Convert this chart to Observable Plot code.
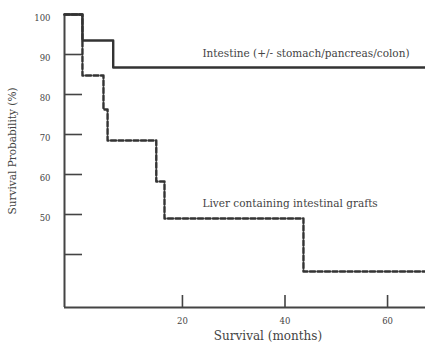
<!DOCTYPE html>
<html>
<head>
<meta charset="utf-8">
<script src="https://cdn.jsdelivr.net/npm/d3@7"></script>
<script src="https://cdn.jsdelivr.net/npm/@observablehq/plot@0.6"></script>
<style>
  html, body { margin: 0; padding: 0; background: #fff; }
  svg { display: block; }
</style>
</head>
<body>
<div id="chart"></div>
<script>
// Survival (months) at each step and survival probability (%) after the step
const intestineMonths = [-3, 0.5, 6.5, 67.4];
const intestineSurvival = [100, 93.5, 86.75, 86.75];
const liverMonths = [-3, 0.5, 4.6, 5.4, 14.9, 16.5, 43.6, 67.4];
const liverSurvival = [100, 84.75, 76.25, 68.5, 58.25, 49, 35.75, 35.75];
const xTicks = [20, 40, 60];
const yTicks = [100, 90, 80, 70, 60, 50, 40];
const yTickLabels = ["100", "90", "80", "70", "60", "50", ""];
const seriesLabels = ["Intestine (+/- stomach/pancreas/colon)", "Liver containing intestinal grafts"];
const xDomain = [-3, 67.4];
const yDomain = [26.75, 100];

const intestine = intestineMonths.map((m, i) => ({m, s: intestineSurvival[i]}));
const liver = liverMonths.map((m, i) => ({m, s: liverSurvival[i]}));

const font = "'DejaVu Serif', 'Liberation Serif', serif";
const ink = "#333";

const chart = Plot.plot({
  width: 425,
  height: 352,
  marginLeft: 64,
  marginRight: 0,
  marginTop: 14,
  marginBottom: 45,
  style: {fontFamily: font, color: "#444", background: "#fff"},
  x: {domain: xDomain},
  y: {domain: yDomain},
  marks: [
    Plot.axisY(yTicks, {tickSize: -18, tickFormat: () => "", label: null, stroke: "#444", strokeWidth: 1.6}),
    Plot.axisY(yTicks, {tickSize: 0, tickPadding: 14, tickFormat: (d) => yTickLabels[yTicks.indexOf(d)], label: null, fontSize: 8.5, dy: 4}),
    Plot.axisX(xTicks, {tickSize: -12, tickFormat: () => "", label: null, stroke: "#444", strokeWidth: 1.6}),
    Plot.axisX(xTicks, {tickSize: 0, tickPadding: 10, label: null, fontSize: 8.5}),
    Plot.text(["Survival (months)"], {frameAnchor: "bottom", dx: 23, dy: 32, fontSize: 12, fill: "#444"}),
    Plot.text(["Survival Probability (%)"], {frameAnchor: "left", rotate: -90, textAnchor: "middle", dx: -52, dy: -10, fontSize: 10.5, fill: "#444"}),
    Plot.ruleX([xDomain[0]], {stroke: "#444", strokeWidth: 2}),
    Plot.ruleY([yDomain[0]], {stroke: "#444", strokeWidth: 2}),
    Plot.line(intestine, {x: "m", y: "s", curve: "step-after", stroke: ink, strokeWidth: 2.4}),
    Plot.line(liver, {x: "m", y: "s", curve: "step-after", stroke: ink, strokeWidth: 2.4, strokeDasharray: "5,2.5"}),
    Plot.text([seriesLabels[0]], {x: 23.9, y: 90.25, textAnchor: "start", fontSize: 10.5, fill: "#444"}),
    Plot.text([seriesLabels[1]], {x: 23.9, y: 52.75, textAnchor: "start", fontSize: 10.5, fill: "#444"})
  ]
});
document.getElementById("chart").appendChild(chart);
</script>
</body>
</html>
